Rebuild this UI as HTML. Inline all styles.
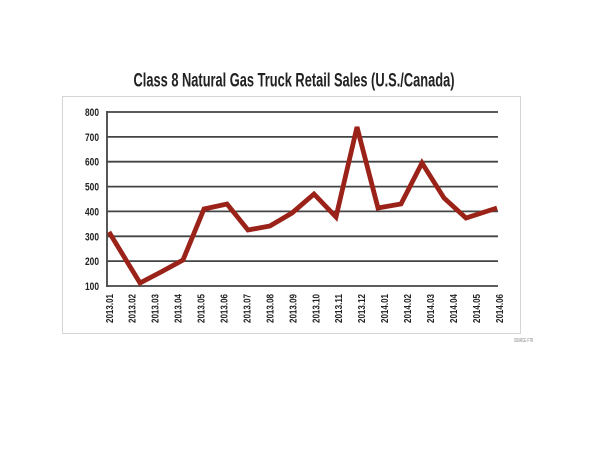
<!DOCTYPE html>
<html><head><meta charset="utf-8"><style>
html,body{margin:0;padding:0;background:#fff;}
svg{display:block;}
text{font-family:"Liberation Sans Narrow","Liberation Sans",sans-serif;font-weight:bold;fill:#222;}
</style></head><body>
<svg width="600" height="450" viewBox="0 0 600 450" xmlns="http://www.w3.org/2000/svg">
<text x="294" y="86.5" text-anchor="middle" font-size="19" textLength="321" lengthAdjust="spacingAndGlyphs">Class 8 Natural Gas Truck Retail Sales (U.S./Canada)</text>
<rect x="62.5" y="96.5" width="458" height="237" fill="none" stroke="#d4d4d4" stroke-width="1"/>
<g stroke="#444" stroke-width="1.8">
<line x1="107" y1="112" x2="498" y2="112"/>
<line x1="107" y1="136.9" x2="498" y2="136.9"/>
<line x1="107" y1="161.7" x2="498" y2="161.7"/>
<line x1="107" y1="186.6" x2="498" y2="186.6"/>
<line x1="107" y1="211.4" x2="498" y2="211.4"/>
<line x1="107" y1="236.3" x2="498" y2="236.3"/>
<line x1="107" y1="261.1" x2="498" y2="261.1"/>
<line x1="107" y1="286" x2="498" y2="286"/>
<line x1="107" y1="111" x2="107" y2="287"/>
</g>
<g font-size="11" text-anchor="end">
<text x="99" y="116" textLength="14" lengthAdjust="spacingAndGlyphs">800</text>
<text x="99" y="140.9" textLength="14" lengthAdjust="spacingAndGlyphs">700</text>
<text x="99" y="165.7" textLength="14" lengthAdjust="spacingAndGlyphs">600</text>
<text x="99" y="190.6" textLength="14" lengthAdjust="spacingAndGlyphs">500</text>
<text x="99" y="215.4" textLength="14" lengthAdjust="spacingAndGlyphs">400</text>
<text x="99" y="240.3" textLength="14" lengthAdjust="spacingAndGlyphs">300</text>
<text x="99" y="265.1" textLength="14" lengthAdjust="spacingAndGlyphs">200</text>
<text x="99" y="290" textLength="14" lengthAdjust="spacingAndGlyphs">100</text>
</g>
<polyline fill="none" stroke="#9b2218" stroke-width="4.8" stroke-linejoin="miter" stroke-linecap="butt"
points="109,232 140,283 161,272 183,260 204,209 227,204 248,230 270,226 292,213 314,194 336,217 357,127 378,208 401,204 422,163 444,198 466,218 497,208"/>
<g font-size="10.5" text-anchor="end">
<text transform="translate(112.8,294) rotate(-90)" textLength="29" lengthAdjust="spacingAndGlyphs">2013.01</text>
<text transform="translate(135.7,294) rotate(-90)" textLength="29" lengthAdjust="spacingAndGlyphs">2013.02</text>
<text transform="translate(158.7,294) rotate(-90)" textLength="29" lengthAdjust="spacingAndGlyphs">2013.03</text>
<text transform="translate(181.6,294) rotate(-90)" textLength="29" lengthAdjust="spacingAndGlyphs">2013.04</text>
<text transform="translate(204.6,294) rotate(-90)" textLength="29" lengthAdjust="spacingAndGlyphs">2013.05</text>
<text transform="translate(227.5,294) rotate(-90)" textLength="29" lengthAdjust="spacingAndGlyphs">2013.06</text>
<text transform="translate(250.4,294) rotate(-90)" textLength="29" lengthAdjust="spacingAndGlyphs">2013.07</text>
<text transform="translate(273.4,294) rotate(-90)" textLength="29" lengthAdjust="spacingAndGlyphs">2013.08</text>
<text transform="translate(296.3,294) rotate(-90)" textLength="29" lengthAdjust="spacingAndGlyphs">2013.09</text>
<text transform="translate(319.3,294) rotate(-90)" textLength="29" lengthAdjust="spacingAndGlyphs">2013.10</text>
<text transform="translate(342.2,294) rotate(-90)" textLength="29" lengthAdjust="spacingAndGlyphs">2013.11</text>
<text transform="translate(365.1,294) rotate(-90)" textLength="29" lengthAdjust="spacingAndGlyphs">2013.12</text>
<text transform="translate(388.1,294) rotate(-90)" textLength="29" lengthAdjust="spacingAndGlyphs">2014.01</text>
<text transform="translate(411.0,294) rotate(-90)" textLength="29" lengthAdjust="spacingAndGlyphs">2014.02</text>
<text transform="translate(434.0,294) rotate(-90)" textLength="29" lengthAdjust="spacingAndGlyphs">2014.03</text>
<text transform="translate(456.9,294) rotate(-90)" textLength="29" lengthAdjust="spacingAndGlyphs">2014.04</text>
<text transform="translate(479.8,294) rotate(-90)" textLength="29" lengthAdjust="spacingAndGlyphs">2014.05</text>
<text transform="translate(502.8,294) rotate(-90)" textLength="29" lengthAdjust="spacingAndGlyphs">2014.06</text>
</g>
<text x="533" y="342" text-anchor="end" font-size="5.5" style="font-weight:normal;fill:#777" textLength="19" lengthAdjust="spacingAndGlyphs">SOURCE: FTR</text>
</svg>
</body></html>
